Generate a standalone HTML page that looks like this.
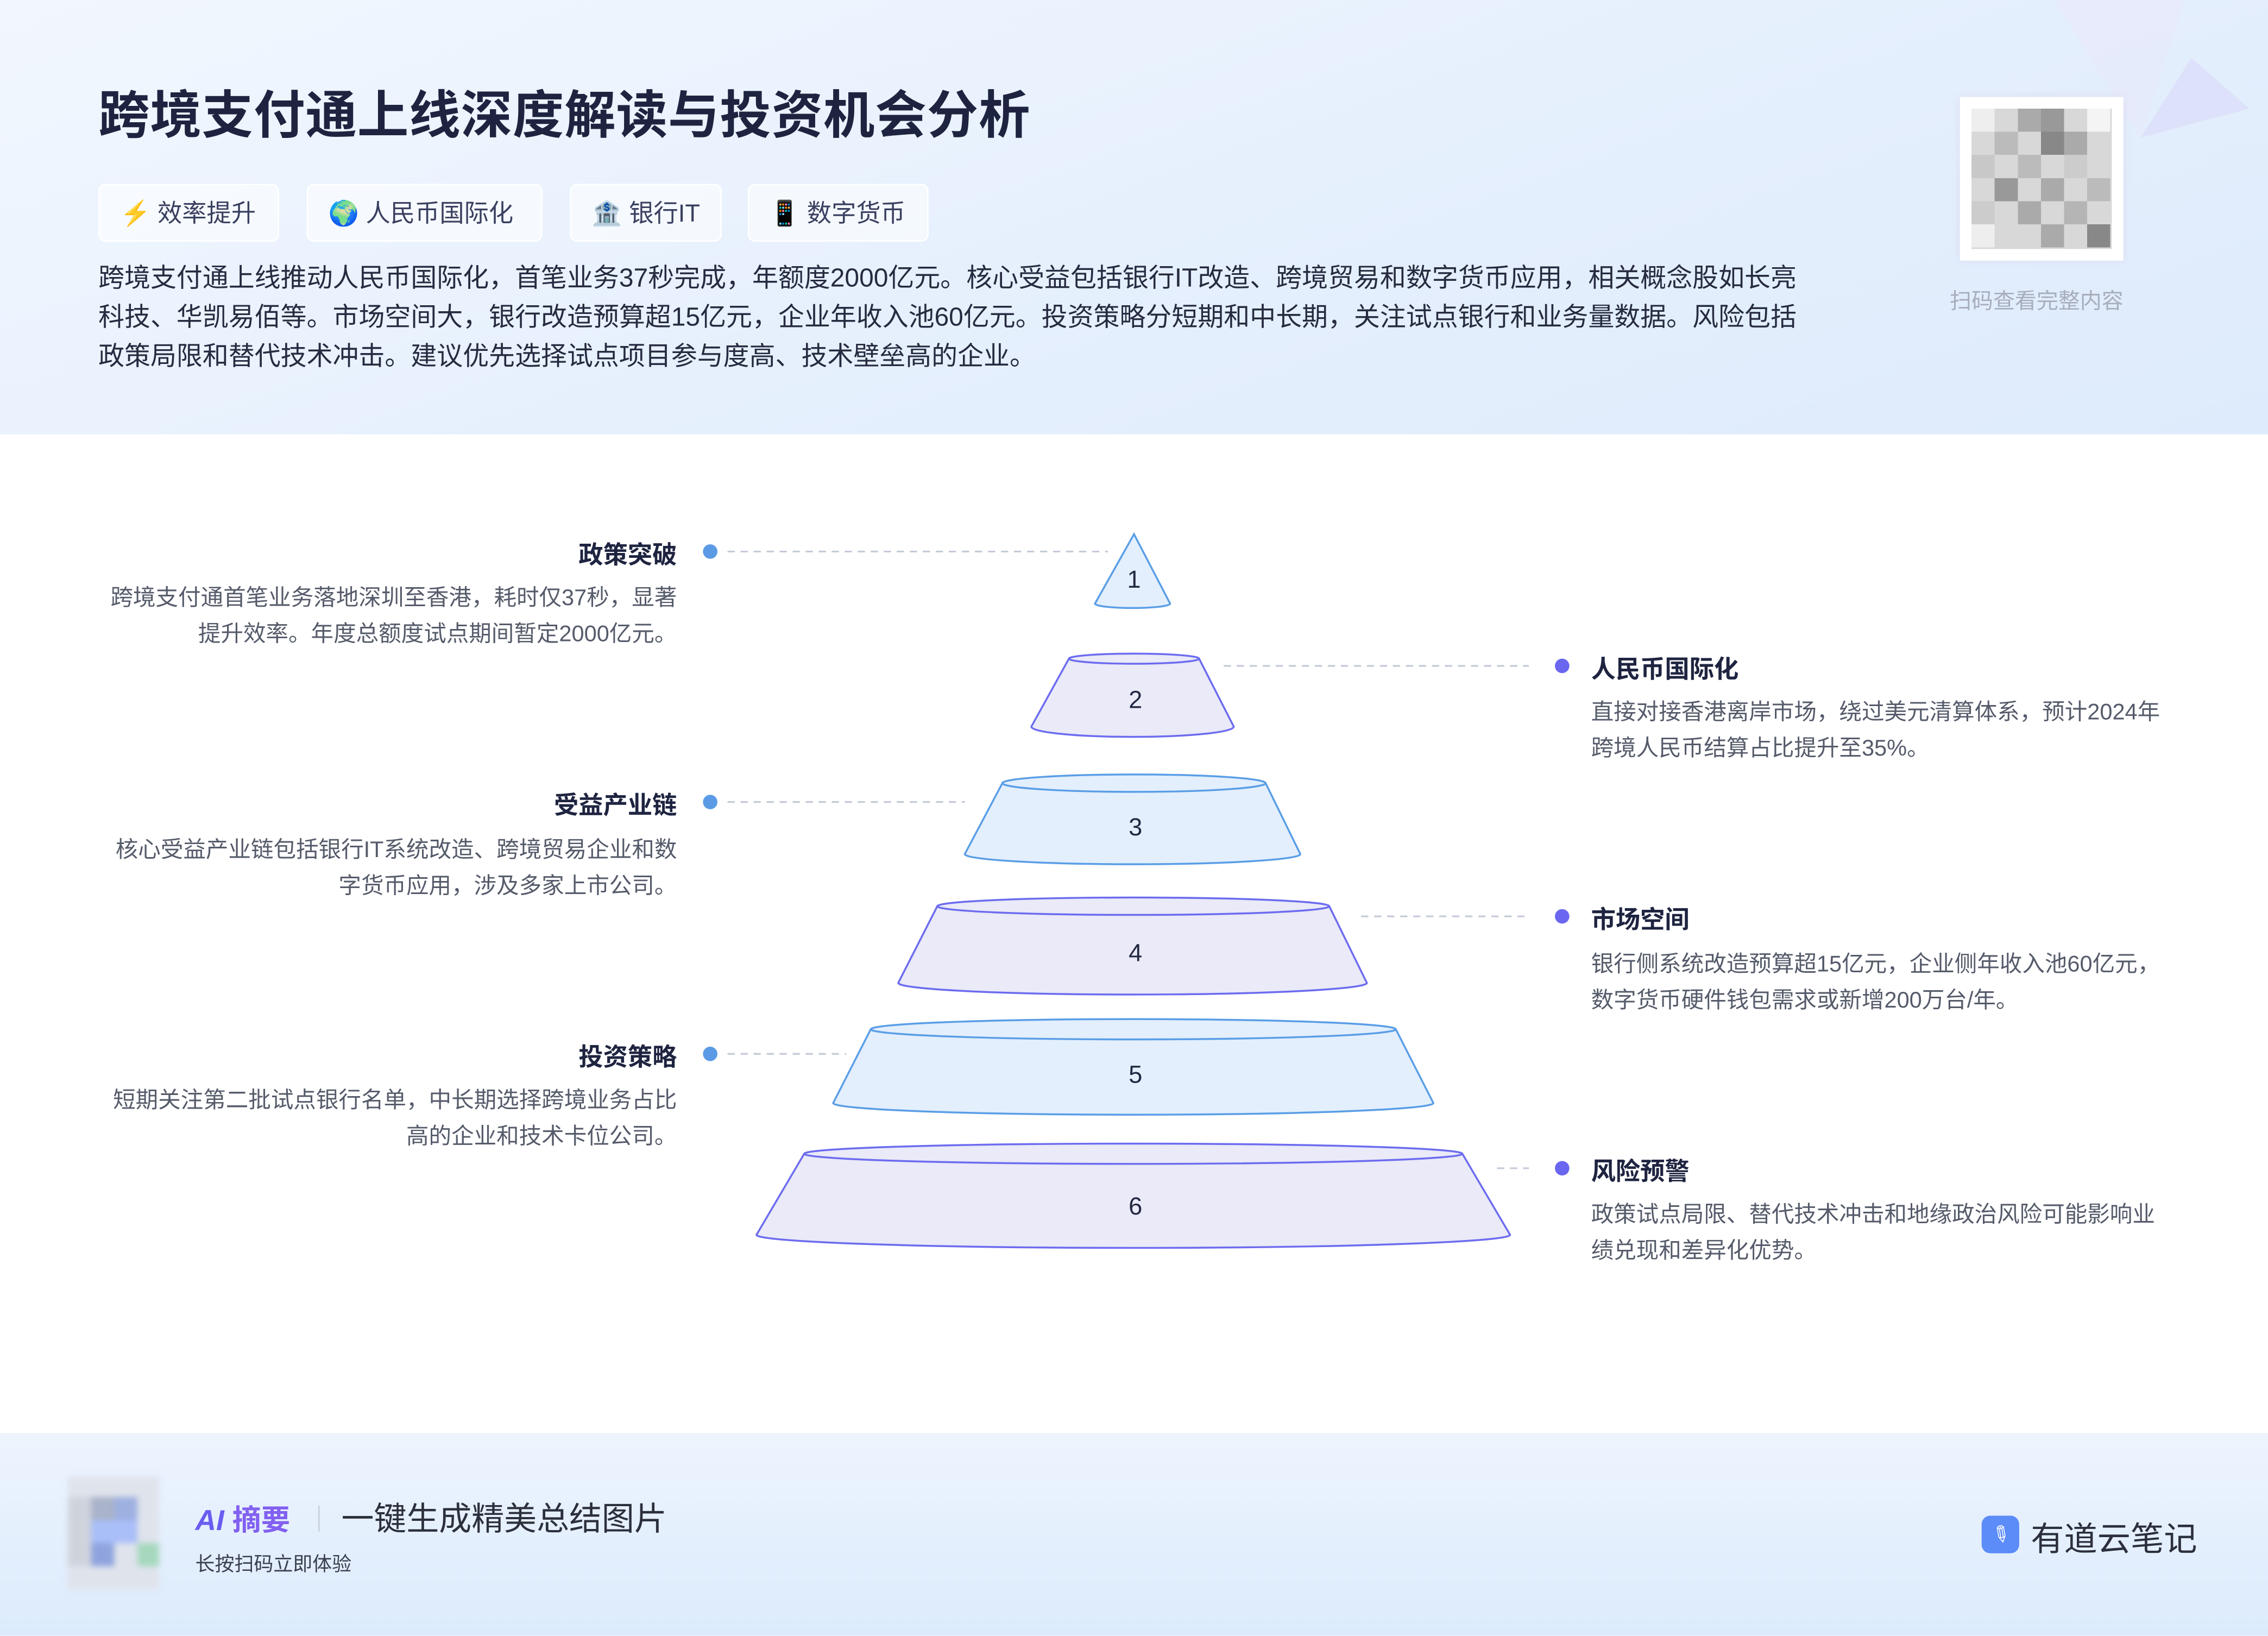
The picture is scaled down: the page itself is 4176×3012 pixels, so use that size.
<!DOCTYPE html>
<html><head><meta charset="utf-8">
<style>
html,body{margin:0;padding:0;}
body{width:4176px;height:3009px;overflow:hidden;background:#fff;font-family:"Liberation Sans","Noto Sans CJK SC",sans-serif;}
#w{position:absolute;left:0;top:0;width:1568px;height:1129px;transform:scale(2.66327,2.66519);transform-origin:0 0;background:#fff;}
.hdr{position:absolute;left:0;top:0;width:1568px;height:300px;background:linear-gradient(160deg,#f2f7fe 0%,#e6f0fd 50%,#deebfc 100%);}
.ftr{position:absolute;left:0;top:990px;width:1568px;height:139px;background:linear-gradient(180deg,#edf4fe,#dcebfc);border-top:1px solid #eef2f8;}
.t{position:absolute;white-space:nowrap;}
.title{left:68px;top:52px;font-size:35.5px;font-weight:bold;color:#1e2440;letter-spacing:0.3px;}
.tag{position:absolute;top:127px;height:40px;background:rgba(255,255,255,0.55);border:1px solid #fff;border-radius:5px;font-size:17px;color:#3a4060;line-height:40px;box-sizing:border-box;padding-left:14px;}
.para{left:68px;top:179px;font-size:18px;line-height:27px;color:#262b40;}
.lt{font-size:17px;font-weight:bold;color:#1e2440;}
.ds{font-size:15.6px;color:#555b6a;line-height:25px;}
.r{text-align:right;}
</style></head><body>
<div id="w">
<div class="hdr"></div>
<svg style="position:absolute;left:1330px;top:0" width="238" height="120"><polygon points="150,95 185,40 225,75" fill="#dcdcfa" opacity="0.7"/><polygon points="90,0 180,0 150,95" fill="#eae8fb" opacity="0.5"/></svg>
<div class="t title">跨境支付通上线深度解读与投资机会分析</div>
<div class="tag" style="left:68px;width:125px">⚡ 效率提升</div>
<div class="tag" style="left:212px;width:163px">🌍 人民币国际化</div>
<div class="tag" style="left:394px;width:105px">🏦 银行IT</div>
<div class="tag" style="left:517px;width:125px">📱 数字货币</div>
<div class="t para">跨境支付通上线推动人民币国际化，首笔业务37秒完成，年额度2000亿元。核心受益包括银行IT改造、跨境贸易和数字货币应用，相关概念股如长亮<br>科技、华凯易佰等。市场空间大，银行改造预算超15亿元，企业年收入池60亿元。投资策略分短期和中长期，关注试点银行和业务量数据。风险包括<br>政策局限和替代技术冲击。建议优先选择试点项目参与度高、技术壁垒高的企业。</div>
<div style="position:absolute;left:1355px;top:67px;width:113px;height:113px;background:#fff;box-shadow:0 0 6px #dde;"></div>
<svg style="position:absolute;left:1363px;top:75px" width="97" height="97" shape-rendering="crispEdges">
<rect width="97" height="97" fill="#d8d8d8"/>
<rect x="0" y="0" width="16" height="16" fill="#eee"/><rect x="32" y="0" width="16" height="16" fill="#aaa"/><rect x="48" y="0" width="16" height="16" fill="#999"/><rect x="80" y="0" width="16" height="16" fill="#f4f4f4"/>
<rect x="16" y="16" width="16" height="16" fill="#bbb"/><rect x="48" y="16" width="16" height="16" fill="#888"/><rect x="64" y="16" width="16" height="16" fill="#aaa"/>
<rect x="0" y="32" width="16" height="16" fill="#c8c8c8"/><rect x="32" y="32" width="16" height="16" fill="#bbb"/><rect x="64" y="32" width="16" height="16" fill="#ccc"/>
<rect x="16" y="48" width="16" height="16" fill="#999"/><rect x="48" y="48" width="16" height="16" fill="#aaa"/><rect x="80" y="48" width="16" height="16" fill="#bbb"/>
<rect x="0" y="64" width="16" height="16" fill="#ccc"/><rect x="32" y="64" width="16" height="16" fill="#aaa"/><rect x="64" y="64" width="16" height="16" fill="#b5b5b5"/>
<rect x="0" y="80" width="16" height="16" fill="#eee"/><rect x="48" y="80" width="16" height="16" fill="#aaa"/><rect x="80" y="80" width="16" height="16" fill="#888"/>
</svg>
<div class="t" style="left:1348px;top:197px;font-size:15px;color:#a8adbc;">扫码查看完整内容</div>

<svg style="position:absolute;left:0;top:0" width="1568" height="1129">
<g stroke="#c4cad8" stroke-width="1.2" stroke-dasharray="5,4" fill="none">
<line x1="503" y1="381" x2="766" y2="381"/>
<line x1="503" y1="554" x2="667" y2="554"/>
<line x1="503" y1="728" x2="585" y2="728"/>
<line x1="846" y1="460" x2="1057" y2="460"/>
<line x1="941" y1="633" x2="1057" y2="633"/>
<line x1="1035" y1="807" x2="1057" y2="807"/>
</g>
<g fill="#5b9be6"><circle cx="491" cy="381" r="5"/><circle cx="491" cy="554" r="5"/><circle cx="491" cy="728" r="5"/></g>
<g fill="#6b66f0"><circle cx="1080" cy="460" r="5"/><circle cx="1080" cy="633" r="5"/><circle cx="1080" cy="807" r="5"/></g>
<g stroke-width="1.3">
<path d="M784,369 L809,417 A26,3 0 0 1 757,417 Z" fill="#e3effd" stroke="#5a9ee6"/>
<path d="M739,455 L713,502 A70,7 0 0 0 853,502 L829,455 Z" fill="#eaeaf8" stroke="#6c6cf0"/><ellipse cx="784" cy="455" rx="45" ry="3.5" fill="#eaeaf8" stroke="#6c6cf0"/>
<path d="M693,541 L667,590 A116,7 0 0 0 899,590 L875,541 Z" fill="#e3effd" stroke="#5a9ee6"/><ellipse cx="784" cy="541" rx="91" ry="6" fill="#e3effd" stroke="#5a9ee6"/>
<path d="M648,626 L621,679 A162,8 0 0 0 945,679 L919,626 Z" fill="#eaeaf8" stroke="#6c6cf0"/><ellipse cx="783.5" cy="626" rx="135.5" ry="6" fill="#eaeaf8" stroke="#6c6cf0"/>
<path d="M602,711 L576,762 A207,8 0 0 0 991,762 L965,711 Z" fill="#e3effd" stroke="#5a9ee6"/><ellipse cx="783.5" cy="711" rx="181.5" ry="7" fill="#e3effd" stroke="#5a9ee6"/>
<path d="M556,797 L523,853 A260,9 0 0 0 1044,853 L1011,797 Z" fill="#eaeaf8" stroke="#6c6cf0"/><ellipse cx="783.5" cy="797" rx="227.5" ry="7" fill="#eaeaf8" stroke="#6c6cf0"/>
</g>
<g font-family="Liberation Sans,sans-serif" font-size="17" fill="#232842" text-anchor="middle">
<text x="784" y="406">1</text><text x="785" y="489">2</text><text x="785" y="577">3</text><text x="785" y="664">4</text><text x="785" y="748">5</text><text x="785" y="839">6</text>
</g>
</svg>

<div class="t lt r" style="right:1100px;top:369px;">政策突破</div>
<div class="t ds r" style="right:1100px;top:401px;">跨境支付通首笔业务落地深圳至香港，耗时仅37秒，显著<br>提升效率。年度总额度试点期间暂定2000亿元。</div>
<div class="t lt r" style="right:1100px;top:542px;">受益产业链</div>
<div class="t ds r" style="right:1100px;top:575px;">核心受益产业链包括银行IT系统改造、跨境贸易企业和数<br>字货币应用，涉及多家上市公司。</div>
<div class="t lt r" style="right:1100px;top:716px;">投资策略</div>
<div class="t ds r" style="right:1100px;top:748px;">短期关注第二批试点银行名单，中长期选择跨境业务占比<br>高的企业和技术卡位公司。</div>

<div class="t lt" style="left:1100px;top:448px;">人民币国际化</div>
<div class="t ds" style="left:1100px;top:480px;">直接对接香港离岸市场，绕过美元清算体系，预计2024年<br>跨境人民币结算占比提升至35%。</div>
<div class="t lt" style="left:1100px;top:621px;">市场空间</div>
<div class="t ds" style="left:1100px;top:654px;">银行侧系统改造预算超15亿元，企业侧年收入池60亿元，<br>数字货币硬件钱包需求或新增200万台/年。</div>
<div class="t lt" style="left:1100px;top:795px;">风险预警</div>
<div class="t ds" style="left:1100px;top:827px;">政策试点局限、替代技术冲击和地缘政治风险可能影响业<br>绩兑现和差异化优势。</div>

<div class="ftr"></div>
<svg style="position:absolute;left:47px;top:1020px;filter:blur(2px)" width="63" height="78" shape-rendering="crispEdges">
<rect width="63" height="78" fill="#dfe3ec"/>
<rect x="16" y="14" width="16" height="16" fill="#a9b3c9"/><rect x="32" y="14" width="16" height="16" fill="#9db0e0"/>
<rect x="16" y="30" width="16" height="16" fill="#a8bff8"/><rect x="32" y="30" width="16" height="16" fill="#aabef8"/>
<rect x="16" y="46" width="16" height="16" fill="#8fa4de"/><rect x="48" y="46" width="15" height="16" fill="#a5d8bd"/>
<rect x="0" y="14" width="16" height="48" fill="#cfd3dc"/>
</svg>
<div class="t" style="left:135px;top:1034px;font-size:20px;font-weight:bold;font-style:italic;color:#6b5cf0;">AI <span style="font-style:normal;color:#8260f0">摘要</span></div>
<div style="position:absolute;left:220px;top:1040px;width:1px;height:18px;background:#c8cede"></div>
<div class="t" style="left:236px;top:1032px;font-size:22.5px;color:#2c2f3c;">一键生成精美总结图片</div>
<div class="t" style="left:135px;top:1069px;font-size:13.5px;color:#3a3f4e;">长按扫码立即体验</div>
<div style="position:absolute;left:1370px;top:1047px;width:26px;height:26px;border-radius:6px;background:#5b8cf8;"></div>
<div class="t" style="left:1377px;top:1051px;font-size:15px;color:#fff;transform:rotate(35deg);">✎</div>
<div class="t" style="left:1404px;top:1044px;font-size:23px;color:#2c2f3c;">有道云笔记</div>
</div>
</body></html>
